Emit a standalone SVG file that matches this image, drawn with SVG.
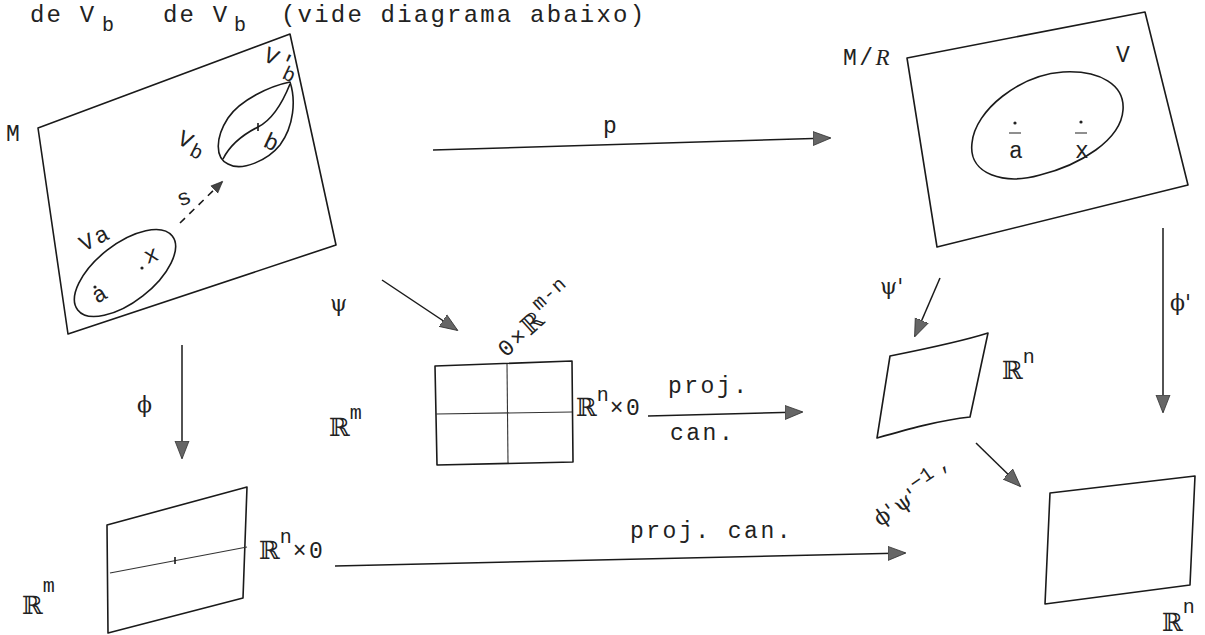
<svg xmlns="http://www.w3.org/2000/svg" width="1205" height="635" viewBox="0 0 1205 635">
<defs>
<marker id="ah" markerWidth="20" markerHeight="16" refX="17" refY="8" orient="auto" markerUnits="userSpaceOnUse">
<path d="M0,1 L18,8 L0,15 Z" fill="#666" stroke="#333" stroke-width="0.8"/>
</marker>
<marker id="ahs" markerWidth="14" markerHeight="12" refX="11" refY="6" orient="auto" markerUnits="userSpaceOnUse">
<path d="M0,1 L12,6 L0,11 Z" fill="#444" stroke="#222" stroke-width="0.6"/>
</marker>
</defs>
<style>
.ln{fill:none;stroke:#1a1a1a;stroke-width:1.6;stroke-linejoin:round}
.thin{fill:none;stroke:#333;stroke-width:1.1}
.ar{fill:none;stroke:#1a1a1a;stroke-width:1.5;marker-end:url(#ah)}
.t{font-family:"Liberation Mono",monospace;font-size:23px;letter-spacing:2.5px;fill:#222}
.big{font-size:24px;letter-spacing:2.2px}
.sub{font-size:20px;letter-spacing:1px}
.g{font-family:"DejaVu Serif",serif;font-size:22px;fill:#222}
.R{font-family:"DejaVu Serif",serif;font-size:25px;fill:#222}
.dot{fill:#222}
</style>
<rect width="1205" height="635" fill="#fff"/>

<g id="header">
<text class="t big" x="30" y="22">de V</text>
<text class="t sub" x="102" y="31">b</text>
<text class="t big" x="163" y="22">de V</text>
<text class="t sub" x="234" y="31">b</text>
<text class="t big" x="281" y="22">(vide diagrama abaixo)</text>
</g>

<g id="node-M">
<polygon class="ln" points="38,128 290,34 336,245 68,334"/>
<text class="t" x="6" y="141">M</text>
<path class="ln" d="M290,82 C270,86 240,100 228,118 C215,138 215,158 228,164 C242,172 268,160 280,145 C294,126 296,100 290,82 Z"/>
<path class="ln" d="M290,84 C282,104 272,120 258,127 C242,135 230,145 223,159"/>
<line class="ln" x1="258" y1="123" x2="258" y2="131"/>
<text class="t" transform="translate(176,143) rotate(27)">V<tspan class="sub" dy="5">b</tspan></text>
<text class="t" transform="translate(262,60) rotate(25)">V'<tspan class="sub" dx="-8" dy="8">b</tspan></text>
<text class="t" transform="translate(262,146) rotate(25)">b</text>
<ellipse class="ln" cx="125" cy="273" rx="60" ry="29" transform="rotate(-38 125 273)"/>
<text class="t" transform="translate(84,252) rotate(-27)">Va</text>
<circle class="dot" cx="95" cy="287" r="1.6"/>
<text class="t" transform="translate(97,304) rotate(-30)">a</text>
<circle class="dot" cx="142" cy="268" r="1.6"/>
<text class="t" transform="translate(147,264) rotate(-20)">x</text>
<text class="t" transform="translate(180,207) rotate(-22)">s</text>
</g>

<g id="node-MR">
<polygon class="ln" points="907,58 1145,12 1188,185 937,247"/>
<text class="t" x="843" y="65">M/<tspan font-style="italic" font-family="Liberation Serif, serif">R</tspan></text>
<text class="t" x="1116" y="62">V</text>
<path class="ln" d="M972,143 C975,110 1020,75 1063,72 C1100,70 1125,85 1123,110 C1121,140 1080,165 1040,175 C1005,185 968,175 972,143 Z"/>
<circle class="dot" cx="1015" cy="123" r="1.6"/>
<line class="thin" x1="1009" y1="133" x2="1021" y2="133"/>
<text class="t" x="1009" y="158">a</text>
<circle class="dot" cx="1081" cy="122" r="1.6"/>
<line class="thin" x1="1075" y1="133" x2="1087" y2="133"/>
<text class="t" x="1075" y="158">x</text>
</g>

<g id="node-box">
<polygon class="ln" points="435,366 572,361 573,462 437,465"/>
<line class="thin" x1="507" y1="364" x2="508" y2="463"/>
<line class="thin" x1="436" y1="414" x2="572" y2="412"/>
<text class="t" transform="translate(506,358) rotate(-42)">0×<tspan class="R">ℝ</tspan><tspan class="sub" dy="-13">m-n</tspan></text>
<text class="R" x="329" y="436">ℝ<tspan class="t sub" dy="-17">m</tspan></text>
<text class="R" x="576" y="416">ℝ<tspan class="t sub" dy="-15">n</tspan><tspan class="t" dy="14">×0</tspan></text>
</g>

<g id="node-Rm-bottom">
<polygon class="ln" points="107,525 247,487 243,598 108,633"/>
<line class="thin" x1="110" y1="573" x2="247" y2="547"/>
<line class="ln" x1="175" y1="557" x2="175" y2="564"/>
<text class="R" x="22" y="614">ℝ<tspan class="t sub" dy="-22">m</tspan></text>
<text class="R" x="259" y="559">ℝ<tspan class="t sub" dy="-16">n</tspan><tspan class="t" dy="15">×0</tspan></text>
</g>

<g id="node-Rn-small">
<path class="ln" d="M890,356 C920,350 960,342 988,333 L970,417 C940,420 905,430 877,438 Z"/>
<text class="R" x="1002" y="379">ℝ<tspan class="t sub" dy="-16">n</tspan></text>
</g>

<g id="node-Rn-bottom">
<polygon class="ln" points="1050,493 1195,476 1190,585 1045,604"/>
<text class="R" x="1162" y="631">ℝ<tspan class="t sub" dy="-18">n</tspan></text>
</g>

<g id="connectors">
<line class="ar" x1="433" y1="150" x2="830" y2="138"/>
<text class="t" x="603" y="133">p</text>
<line class="ln" x1="180" y1="223" x2="222" y2="182" stroke-dasharray="7,6" marker-end="url(#ahs)"/>
<line class="ar" x1="382" y1="280" x2="457" y2="330"/>
<text class="g" x="330" y="311">ψ</text>
<line class="ar" x1="182" y1="345" x2="182" y2="458"/>
<text class="g" x="137" y="412">ϕ</text>
<line class="ar" x1="1163" y1="228" x2="1163" y2="412"/>
<text class="g" x="1170" y="310">ϕ'</text>
<line class="ar" x1="940" y1="278" x2="915" y2="336"/>
<text class="g" x="880" y="294">ψ'</text>
<line class="ar" x1="648" y1="416" x2="802" y2="412"/>
<text class="t" x="668" y="393">proj.</text>
<text class="t" x="670" y="440">can.</text>
<line class="ar" x1="976" y1="443" x2="1020" y2="486"/>
<text class="g" font-size="24" transform="translate(880,527) rotate(-35)">ϕ'<tspan dx="3">ψ'</tspan><tspan class="t sub" dx="2" dy="-10">−1</tspan><tspan class="t sub" dx="6">,</tspan></text>
<line class="ar" x1="335" y1="566" x2="905" y2="553"/>
<text class="t" x="630" y="538">proj. can.</text>
</g>
</svg>
